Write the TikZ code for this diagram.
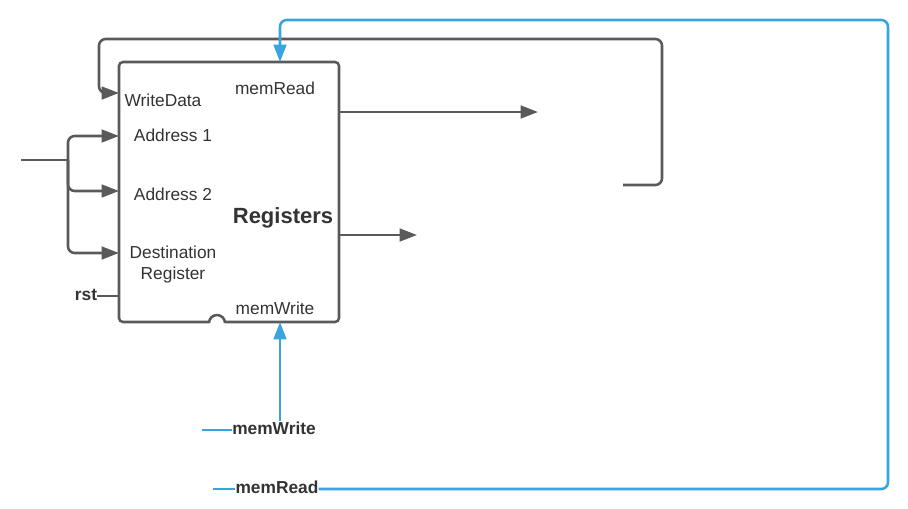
\documentclass[tikz,border=0pt]{standalone}
\usepackage{fontspec}
\setmainfont{Liberation Sans}
\usetikzlibrary{arrows.meta}
\definecolor{gline}{HTML}{5A5A5A}
\definecolor{bline}{HTML}{3AA4DF}
\definecolor{txt}{HTML}{333333}
\begin{document}
\begin{tikzpicture}[x=0.75pt,y=-0.75pt,
 gl/.style={draw=gline,line width=1.9pt},
 bl/.style={draw=bline,line width=1.9pt},
 tip/.style={-{Triangle[length=13pt,width=9.5pt]}},
 lbl/.style={font=\fontsize{13}{15.75}\selectfont,text=txt,inner sep=0pt},
 blbl/.style={font=\fontsize{13}{15.75}\selectfont\bfseries,text=txt,inner sep=0pt},
]
\useasboundingbox (0,0) rectangle (908,508);
% register box
\node[gl,rounded corners=3pt,minimum width=165pt,minimum height=195pt,inner sep=0pt] (reg) at (229,192) {};
% texts
\node[lbl] (wd) at (163,100) {WriteData};
\node[lbl] (mr) at (275,88) {memRead};
\node[lbl] (ad1) at (173,135) {Address 1};
\node[lbl] (ad2) at (173,194) {Address 2};
\node[lbl,align=center] (dst) at (173,265) {Destination\\Register};
\node[font=\fontsize{16.5}{19}\selectfont\bfseries,text=txt,inner sep=0pt] (rg) at (283,218) {Registers};
\node[lbl] (mw) at (275,308) {memWrite};
\node[blbl] (rst) at (86,295) {rst};
\node[blbl] (mwb) at (274,428) {memWrite};
\node[blbl] (mrb) at (277,487) {memRead};
% coordinates
\coordinate (inL) at (21,160);
\coordinate (jn) at (68,160);
\coordinate (a1) at (119,136);
\coordinate (a2) at (119,191);
\coordinate (ds) at (119,253);
\coordinate (rstin) at (119,296);
\coordinate (o1s) at (339,112);
\coordinate (o1e) at (538,112);
\coordinate (o2s) at (339,235);
\coordinate (o2e) at (417,235);
\coordinate (fbs) at (623,185);
\coordinate (wdin) at (119,93);
\coordinate (mwL) at (202,430);
\coordinate (mrL) at (213,489);
\coordinate (mwtop) at (280,322);
\coordinate (mrtop) at (280,62);
% gray connectors
\draw[gl] (inL) -- (jn);
\draw[gl,tip,rounded corners=5pt] (jn) -- (68,136) -- (a1);
\draw[gl,tip,rounded corners=5pt] (jn) -- (68,191) -- (a2);
\draw[gl,tip,rounded corners=5pt] (jn) -- (68,253) -- (ds);
\draw[gl] (rstin -| rst.east) -- (rstin);
\draw[gl,tip] (o1s) -- (o1e);
\draw[gl,tip] (o2s) -- (o2e);
\draw[gl,tip,rounded corners=5pt] (fbs) -- (662,185) -- (662,39) -- (99,39) -- (99,93) -- (wdin);
% line hop on bottom edge
\draw[white,line width=3pt] (209,322) -- (225,322);
\draw[gl] (209,323) arc (180:360:8);
% blue connectors
\draw[bl] (mwL) -- (mwL -| mwb.west);
\draw[bl,tip] (mwb.north -| mwtop) -- (mwtop);
\draw[bl] (mrL) -- (mrL -| mrb.west);
\draw[bl,tip,rounded corners=5pt] (mrL -| mrb.east) -- (888,489) -- (888,20) -- (280,20) -- (mrtop);
\end{tikzpicture}
\end{document}
